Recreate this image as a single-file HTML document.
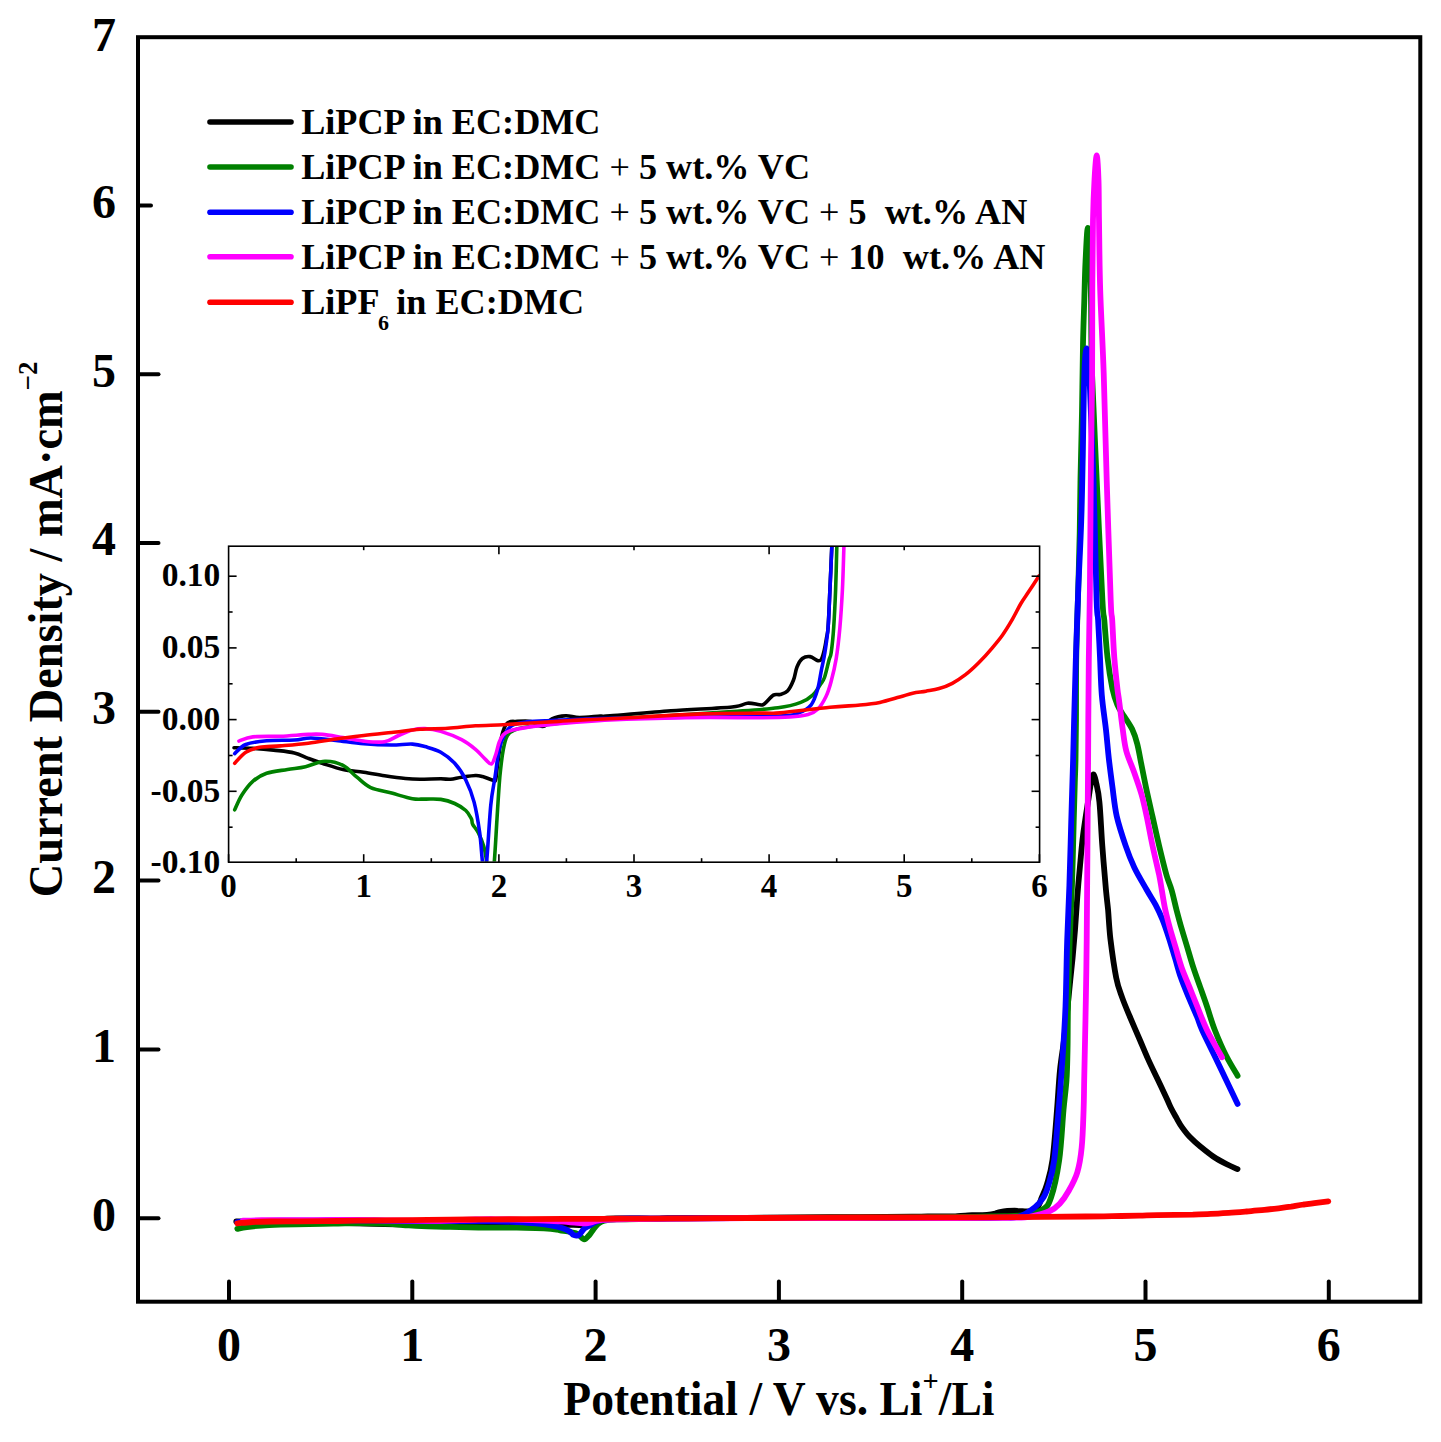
<!DOCTYPE html><html><head><meta charset="utf-8"><style>html,body{margin:0;padding:0;background:#fff;}body{width:1441px;height:1442px;overflow:hidden;}svg{display:block;}text{font-family:"Liberation Serif", serif;font-weight:bold;fill:#000;}</style></head><body>
<svg width="1441" height="1442" viewBox="0 0 1441 1442">
<rect width="1441" height="1442" fill="#fff"/>
<defs><clipPath id="cm"><rect x="140" y="39" width="1278" height="1261"/></clipPath><clipPath id="ci"><rect x="229.4" y="547" width="809.5" height="314.6"/></clipPath></defs>
<g clip-path="url(#cm)" fill="none" stroke-width="5.8" stroke-linecap="round" stroke-linejoin="round">
<path stroke="#000000" d="M236.3,1221.5 C240.6,1221.5 252.9,1221.5 261.8,1221.6 C270.8,1221.6 280.6,1221.7 290.0,1221.8 C299.4,1221.9 310.4,1222.0 318.3,1222.1 C326.1,1222.3 330.8,1222.6 337.1,1222.8 C343.4,1223.0 348.1,1223.1 356.0,1223.3 C363.8,1223.6 374.8,1223.9 384.2,1224.1 C393.6,1224.3 403.0,1224.3 412.4,1224.4 C421.8,1224.5 431.2,1224.7 440.6,1224.8 C450.0,1224.9 460.8,1225.1 468.8,1225.1 C476.8,1225.2 480.6,1225.2 488.6,1225.2 C496.6,1225.2 509.9,1225.2 516.8,1225.2 C523.7,1225.2 525.3,1225.2 530.0,1225.2 C534.7,1225.2 539.4,1225.1 545.1,1225.0 C550.7,1224.9 559.2,1224.8 563.9,1224.8 C568.6,1224.8 569.6,1224.8 573.4,1224.9 C577.2,1225.0 583.6,1225.2 586.6,1225.3 C589.5,1225.4 589.9,1225.6 591.2,1225.3 C592.4,1225.0 592.6,1224.2 594.0,1223.3 C595.5,1222.5 597.5,1220.9 599.7,1220.1 C601.9,1219.3 603.7,1218.9 607.2,1218.6 C610.6,1218.3 615.1,1218.4 620.5,1218.4 C625.8,1218.4 634.2,1218.3 639.2,1218.4 C644.2,1218.5 647.4,1218.8 650.6,1218.9 C653.7,1219.0 655.2,1219.1 658.1,1218.9 C660.9,1218.8 662.8,1218.3 667.5,1218.1 C672.2,1217.9 680.0,1217.8 686.3,1217.8 C692.5,1217.7 697.3,1217.9 705.1,1218.0 C713.0,1218.0 726.5,1217.8 733.3,1217.8 C740.2,1217.8 730.4,1217.9 746.4,1217.8 C762.3,1217.7 801.5,1217.3 829.1,1217.2 C856.7,1217.0 894.7,1216.9 912.0,1216.7 C929.3,1216.6 926.5,1216.3 932.7,1216.3 C939.0,1216.2 945.5,1216.4 949.3,1216.4 C953.1,1216.5 952.4,1216.6 955.5,1216.4 C958.6,1216.2 964.4,1215.5 968.0,1215.3 C971.6,1215.1 973.8,1215.3 977.0,1215.2 C980.1,1215.2 984.1,1215.1 987.1,1214.8 C990.2,1214.5 993.1,1214.0 995.3,1213.5 C997.4,1213.1 998.0,1212.4 1000.0,1212.0 C1002.0,1211.6 1004.4,1211.2 1007.3,1211.0 C1010.3,1210.8 1014.1,1210.7 1017.7,1210.8 C1021.2,1210.8 1025.3,1211.7 1028.5,1211.3 C1031.7,1210.8 1034.8,1210.4 1037.0,1208.0 C1039.2,1205.6 1040.3,1201.0 1042.0,1197.0 C1043.7,1193.0 1045.2,1190.2 1047.0,1184.0 C1048.8,1177.8 1050.8,1172.3 1052.5,1160.0 C1054.2,1147.7 1055.8,1125.0 1057.0,1110.0 C1058.2,1095.0 1058.8,1081.7 1060.0,1070.0 C1061.2,1058.3 1062.8,1050.3 1064.0,1040.0 C1065.2,1029.7 1066.5,1018.0 1067.5,1008.0 C1068.5,998.0 1069.5,988.3 1070.3,980.0 C1071.1,971.7 1071.8,966.3 1072.6,958.0 C1073.4,949.7 1074.2,940.2 1075.0,930.0 C1075.8,919.8 1076.5,907.7 1077.3,897.0 C1078.1,886.3 1079.0,876.3 1080.0,866.0 C1081.0,855.7 1081.6,846.4 1083.1,835.0 C1084.5,823.6 1087.3,806.7 1088.7,797.5 C1090.1,788.3 1090.7,783.8 1091.5,780.0 C1092.3,776.2 1093.0,774.2 1093.7,774.5 C1094.5,774.8 1095.0,777.4 1096.0,782.0 C1097.0,786.6 1098.4,791.3 1099.4,801.9 C1100.5,812.5 1101.2,831.0 1102.3,845.6 C1103.4,860.2 1104.9,878.6 1105.9,889.3 C1106.9,900.0 1107.3,901.8 1108.1,910.0 C1108.8,918.2 1109.1,927.5 1110.4,938.8 C1111.8,950.1 1114.3,968.0 1116.2,977.7 C1118.1,987.4 1119.7,990.6 1122.0,997.1 C1124.3,1003.6 1126.8,1009.4 1129.8,1016.5 C1132.8,1023.6 1136.8,1032.8 1139.9,1040.0 C1143.0,1047.2 1145.3,1052.9 1148.2,1059.4 C1151.1,1065.9 1154.3,1072.3 1157.4,1078.8 C1160.5,1085.3 1164.3,1093.4 1166.6,1098.3 C1168.9,1103.2 1169.4,1104.8 1171.0,1108.0 C1172.6,1111.2 1174.5,1114.5 1176.3,1117.7 C1178.1,1120.9 1179.8,1124.2 1182.1,1127.4 C1184.4,1130.6 1186.8,1133.9 1189.9,1137.1 C1193.0,1140.3 1196.7,1143.6 1200.6,1146.8 C1204.5,1150.0 1208.8,1153.6 1213.2,1156.5 C1217.6,1159.4 1222.8,1162.2 1226.8,1164.3 C1230.8,1166.4 1235.7,1168.3 1237.5,1169.1"/>
<path stroke="#008000" d="M237.3,1228.8 C238.9,1228.5 242.7,1227.7 246.8,1227.1 C250.9,1226.5 256.2,1225.9 261.8,1225.5 C267.5,1225.0 272.7,1224.8 280.5,1224.5 C288.4,1224.3 300.1,1224.2 308.9,1224.1 C317.7,1223.9 324.9,1223.9 333.3,1223.7 C341.8,1223.6 351.2,1223.1 359.6,1223.1 C368.1,1223.1 376.9,1223.3 384.2,1223.6 C391.4,1223.9 396.8,1224.5 403.0,1225.0 C409.3,1225.4 413.9,1225.9 421.8,1226.2 C429.6,1226.5 440.7,1226.6 450.1,1226.9 C459.5,1227.1 470.8,1227.4 478.3,1227.5 C485.9,1227.6 489.0,1227.5 495.4,1227.6 C501.8,1227.6 510.1,1227.5 516.8,1227.6 C523.6,1227.7 530.0,1227.9 535.7,1228.1 C541.4,1228.3 547.0,1228.6 550.8,1228.9 C554.5,1229.2 556.8,1229.6 558.4,1229.9 C559.9,1230.1 558.6,1230.3 560.1,1230.5 C561.7,1230.8 565.2,1231.1 567.7,1231.5 C570.2,1231.9 573.3,1232.6 575.2,1233.1 C577.0,1233.7 577.5,1233.9 579.0,1234.9 C580.5,1236.0 582.5,1239.4 584.3,1239.4 C586.0,1239.4 587.9,1236.5 589.4,1234.9 C590.9,1233.3 591.8,1231.5 593.1,1229.9 C594.3,1228.2 595.5,1226.3 596.9,1225.0 C598.3,1223.6 599.9,1222.5 601.6,1221.7 C603.3,1220.9 604.7,1220.5 607.2,1220.1 C609.7,1219.7 611.3,1219.6 616.7,1219.4 C622.0,1219.2 619.8,1219.2 639.2,1219.0 C658.5,1218.8 701.1,1218.4 732.8,1218.2 C764.4,1218.0 799.2,1217.9 829.1,1217.7 C859.0,1217.6 887.8,1217.4 912.0,1217.3 C936.2,1217.1 958.7,1217.0 974.2,1216.8 C989.8,1216.6 997.3,1216.4 1005.2,1216.2 C1013.1,1215.9 1015.5,1216.4 1021.7,1215.3 C1027.9,1214.2 1037.5,1212.7 1042.4,1209.7 C1047.3,1206.7 1048.3,1205.6 1051.1,1197.3 C1053.9,1189.0 1057.1,1174.5 1059.2,1160.0 C1061.3,1145.5 1062.3,1123.3 1063.5,1110.0 C1064.7,1096.7 1065.8,1089.8 1066.5,1080.0 C1067.2,1070.2 1067.2,1063.2 1067.5,1051.0 C1067.8,1038.8 1067.6,1025.1 1068.0,1006.6 C1068.4,988.1 1069.0,960.3 1069.7,940.0 C1070.4,919.7 1071.3,904.7 1072.0,885.0 C1072.7,865.3 1073.2,839.0 1073.7,822.0 C1074.2,805.0 1074.5,793.3 1074.8,783.0 C1075.1,772.7 1075.3,770.5 1075.5,760.0 C1075.7,749.5 1075.9,736.7 1076.0,720.0 C1076.1,703.3 1075.9,680.0 1076.2,660.0 C1076.5,640.0 1077.3,621.2 1077.9,600.0 C1078.5,578.8 1079.3,553.3 1079.7,533.0 C1080.1,512.7 1080.1,498.3 1080.5,478.0 C1080.9,457.7 1081.6,433.3 1082.0,411.0 C1082.4,388.7 1082.6,362.5 1083.0,344.0 C1083.4,325.5 1083.9,313.7 1084.3,300.0 C1084.7,286.3 1084.9,274.0 1085.5,262.0 C1086.1,250.0 1087.0,228.0 1087.8,228.0 C1088.5,228.0 1089.5,250.0 1090.0,262.0 C1090.5,274.0 1090.7,281.5 1091.0,300.0 C1091.3,318.5 1091.0,343.0 1092.0,373.0 C1093.0,403.0 1095.0,442.2 1096.7,480.0 C1098.4,517.8 1101.1,576.7 1102.4,600.0 C1103.7,623.3 1103.5,610.4 1104.3,620.0 C1105.1,629.6 1106.2,646.0 1107.5,657.4 C1108.8,668.8 1110.8,680.7 1112.4,688.6 C1114.1,696.5 1115.5,700.3 1117.4,704.9 C1119.3,709.5 1121.5,712.0 1124.0,716.0 C1126.5,720.0 1129.9,724.5 1132.1,729.1 C1134.3,733.7 1135.6,737.6 1137.2,743.7 C1138.8,749.8 1140.1,758.2 1141.6,765.5 C1143.1,772.8 1144.2,778.9 1146.0,787.4 C1147.8,795.9 1150.3,806.8 1152.5,816.5 C1154.7,826.2 1156.8,835.9 1159.1,845.6 C1161.4,855.3 1164.3,867.3 1166.4,874.7 C1168.5,882.1 1169.9,884.2 1171.6,890.0 C1173.3,895.8 1174.7,902.9 1176.4,909.4 C1178.1,915.9 1179.8,922.3 1181.7,928.8 C1183.6,935.3 1185.6,941.8 1187.6,948.3 C1189.5,954.8 1191.3,961.2 1193.4,967.7 C1195.5,974.2 1197.9,980.6 1200.2,987.1 C1202.5,993.6 1204.6,999.4 1207.0,1006.5 C1209.4,1013.6 1211.6,1021.9 1214.8,1030.0 C1218.0,1038.1 1222.1,1047.7 1225.9,1055.3 C1229.7,1062.9 1235.6,1072.3 1237.6,1075.7"/>
<path stroke="#0000ff" d="M237.3,1222.2 C239.8,1222.0 245.1,1221.4 252.3,1221.1 C259.5,1220.9 269.6,1220.8 280.5,1220.7 C291.5,1220.6 308.2,1220.7 318.3,1220.6 C328.3,1220.5 331.4,1220.4 340.8,1220.4 C350.2,1220.4 362.7,1220.5 374.7,1220.6 C386.6,1220.8 399.8,1221.0 412.4,1221.0 C425.0,1221.1 439.1,1221.2 450.1,1221.2 C461.1,1221.2 470.8,1221.1 478.3,1221.1 C485.9,1221.1 489.0,1221.2 495.4,1221.4 C501.8,1221.5 510.1,1221.7 516.8,1222.0 C523.6,1222.4 530.0,1222.8 535.7,1223.3 C541.4,1223.9 546.4,1224.5 550.8,1225.3 C555.1,1226.1 558.9,1226.9 562.0,1227.9 C565.2,1228.9 567.7,1230.3 569.6,1231.5 C571.5,1232.7 572.3,1234.3 573.4,1234.9 C574.5,1235.6 575.2,1235.6 576.1,1235.6 C577.0,1235.6 577.5,1236.2 579.0,1234.9 C580.4,1233.7 582.8,1229.9 584.7,1228.2 C586.6,1226.6 588.5,1226.1 590.4,1225.0 C592.2,1223.9 593.7,1222.6 595.9,1221.7 C598.1,1220.9 600.7,1220.4 603.5,1219.9 C606.3,1219.4 608.5,1219.2 612.9,1218.9 C617.3,1218.7 622.3,1218.6 629.8,1218.5 C637.4,1218.4 640.9,1218.4 658.1,1218.4 C675.2,1218.3 697.7,1218.1 732.8,1218.1 C767.9,1218.0 827.7,1217.9 868.4,1217.9 C909.1,1217.8 954.6,1217.9 977.0,1217.8 C999.3,1217.7 995.3,1217.6 1002.3,1217.4 C1009.4,1217.2 1013.9,1218.2 1019.3,1216.5 C1024.7,1214.8 1030.8,1210.4 1034.9,1207.2 C1039.0,1204.0 1041.3,1201.0 1043.6,1197.3 C1045.9,1193.6 1046.8,1191.0 1048.6,1184.8 C1050.4,1178.6 1052.5,1172.5 1054.2,1160.0 C1055.9,1147.5 1057.2,1126.7 1058.6,1110.0 C1060.0,1093.3 1061.2,1077.2 1062.4,1060.0 C1063.6,1042.8 1064.7,1026.6 1065.5,1006.6 C1066.3,986.6 1066.5,960.3 1067.2,940.0 C1067.9,919.7 1068.7,904.6 1069.4,885.0 C1070.1,865.4 1070.6,843.3 1071.2,822.5 C1071.8,801.7 1072.6,777.1 1073.1,760.0 C1073.6,742.9 1073.6,736.7 1074.1,720.0 C1074.5,703.3 1075.1,681.8 1075.8,660.0 C1076.5,638.2 1077.4,612.0 1078.3,589.0 C1079.2,566.0 1080.5,544.2 1081.2,522.0 C1082.0,499.8 1082.3,477.8 1082.8,455.6 C1083.2,433.4 1083.5,404.9 1083.9,389.0 C1084.3,373.1 1084.5,366.8 1085.0,360.0 C1085.5,353.2 1086.0,348.5 1086.6,348.5 C1087.2,348.5 1087.9,353.1 1088.5,360.0 C1089.1,366.9 1089.2,370.0 1090.0,390.0 C1090.8,410.0 1092.4,445.0 1093.5,480.0 C1094.6,515.0 1095.8,576.7 1096.6,600.0 C1097.4,623.3 1097.5,610.4 1098.1,620.0 C1098.7,629.6 1099.4,644.9 1100.0,657.4 C1100.6,669.9 1100.8,682.9 1101.8,694.9 C1102.8,706.9 1104.7,718.5 1105.9,729.1 C1107.1,739.7 1107.7,748.6 1108.8,758.3 C1109.9,768.0 1111.2,777.7 1112.5,787.4 C1113.8,797.1 1114.6,806.8 1116.8,816.5 C1119.0,826.2 1122.7,837.1 1125.6,845.6 C1128.5,854.1 1130.8,860.1 1134.3,867.5 C1137.8,874.9 1143.3,883.8 1146.8,890.0 C1150.3,896.2 1152.9,899.8 1155.5,904.6 C1158.1,909.5 1160.0,913.5 1162.3,919.1 C1164.6,924.8 1167.0,932.0 1169.1,938.5 C1171.2,945.0 1173.0,951.5 1175.0,958.0 C1177.0,964.5 1178.5,970.9 1180.8,977.4 C1183.0,983.9 1185.8,990.3 1188.5,996.8 C1191.2,1003.3 1194.5,1010.7 1196.8,1016.2 C1199.1,1021.7 1199.2,1023.5 1202.1,1030.0 C1205.0,1036.5 1208.4,1043.0 1214.3,1055.3 C1220.2,1067.6 1233.7,1095.8 1237.6,1103.9"/>
<path stroke="#ff00ff" d="M243.0,1220.7 C246.1,1220.6 252.4,1220.3 261.8,1220.2 C271.2,1220.1 286.9,1220.2 299.4,1220.2 C311.9,1220.1 327.7,1220.0 337.1,1219.9 C346.5,1219.9 348.1,1219.9 356.0,1219.9 C363.8,1220.0 374.8,1220.2 384.2,1220.3 C393.6,1220.5 403.0,1220.6 412.4,1220.7 C421.8,1220.8 432.8,1220.9 440.6,1220.8 C448.5,1220.7 453.2,1220.3 459.5,1220.1 C465.7,1219.8 472.3,1219.6 478.3,1219.4 C484.3,1219.3 489.0,1219.2 495.4,1219.3 C501.8,1219.3 508.6,1219.4 516.8,1219.6 C525.1,1219.8 537.2,1220.2 545.1,1220.6 C552.9,1220.9 558.6,1221.3 563.9,1221.7 C569.2,1222.1 573.5,1222.6 577.1,1222.8 C580.7,1223.1 583.3,1223.5 585.6,1223.4 C588.0,1223.3 589.5,1222.8 591.2,1222.4 C592.9,1221.9 594.2,1221.3 595.9,1220.9 C597.7,1220.5 599.1,1220.2 601.6,1220.0 C604.1,1219.8 606.3,1219.6 611.0,1219.5 C615.7,1219.4 622.0,1219.3 629.8,1219.2 C637.7,1219.1 638.6,1219.0 658.1,1218.8 C677.5,1218.7 714.4,1218.4 746.4,1218.2 C778.3,1218.1 815.3,1218.0 849.9,1218.0 C884.4,1217.9 930.0,1218.0 953.5,1218.0 C976.9,1218.0 980.3,1218.0 990.5,1217.9 C1000.8,1217.8 1008.6,1217.8 1014.9,1217.6 C1021.3,1217.4 1022.7,1218.1 1028.5,1217.0 C1034.3,1215.9 1044.7,1213.2 1049.9,1211.0 C1055.1,1208.8 1056.8,1206.8 1059.9,1203.5 C1063.0,1200.2 1065.7,1196.2 1068.6,1191.0 C1071.5,1185.8 1075.1,1179.6 1077.3,1172.3 C1079.5,1165.0 1080.7,1157.7 1081.7,1147.3 C1082.8,1136.9 1083.2,1121.2 1083.6,1110.0 C1084.0,1098.8 1083.9,1095.4 1084.2,1080.0 C1084.5,1064.6 1085.1,1041.0 1085.5,1017.7 C1085.9,994.4 1086.3,983.0 1086.7,940.0 C1087.1,897.0 1087.8,796.7 1088.1,760.0 C1088.4,723.3 1088.2,736.7 1088.3,720.0 C1088.4,703.3 1088.5,681.8 1088.8,660.0 C1089.1,638.2 1089.5,623.1 1089.9,589.0 C1090.3,554.9 1090.6,491.6 1091.0,455.6 C1091.4,419.6 1091.9,400.6 1092.1,373.0 C1092.3,345.4 1092.1,315.5 1092.3,290.0 C1092.5,264.5 1092.6,238.3 1093.0,220.0 C1093.4,201.7 1093.9,190.8 1094.5,180.0 C1095.1,169.2 1096.0,155.5 1096.7,155.5 C1097.4,155.5 1098.1,169.2 1098.5,180.0 C1098.9,190.8 1098.7,201.7 1099.0,220.0 C1099.3,238.3 1099.4,264.5 1100.2,290.0 C1101.0,315.5 1102.6,341.3 1103.7,373.0 C1104.8,404.7 1105.5,442.2 1106.7,480.0 C1107.9,517.8 1109.8,576.7 1110.7,600.0 C1111.6,623.3 1111.6,610.4 1112.2,620.0 C1112.8,629.6 1113.4,646.0 1114.3,657.4 C1115.2,668.8 1116.6,681.5 1117.4,688.6 C1118.2,695.7 1118.1,693.2 1119.0,700.0 C1119.9,706.8 1121.5,720.6 1122.7,729.1 C1123.9,737.6 1124.4,743.7 1126.3,751.0 C1128.2,758.3 1131.8,765.5 1134.3,772.8 C1136.8,780.1 1139.5,787.4 1141.6,794.7 C1143.7,802.0 1144.9,808.0 1146.7,816.5 C1148.5,825.0 1150.4,835.9 1152.5,845.6 C1154.6,855.3 1157.5,867.3 1159.1,874.7 C1160.6,882.1 1160.8,884.2 1161.8,890.0 C1162.8,895.8 1163.8,902.9 1165.2,909.4 C1166.6,915.9 1168.3,922.3 1170.1,928.8 C1171.9,935.3 1174.0,941.8 1175.9,948.3 C1177.8,954.8 1179.4,961.2 1181.7,967.7 C1184.0,974.2 1186.9,980.6 1189.5,987.1 C1192.1,993.6 1194.4,999.4 1197.3,1006.5 C1200.2,1013.6 1202.9,1021.5 1207.0,1030.0 C1211.1,1038.5 1219.5,1052.8 1222.0,1057.3"/>
<path stroke="#ff0000" d="M237.3,1223.3 C239.8,1223.1 246.7,1222.4 252.3,1222.0 C258.0,1221.7 263.3,1221.6 271.2,1221.5 C279.0,1221.3 288.4,1221.4 299.4,1221.3 C310.4,1221.2 324.6,1221.1 337.1,1221.0 C349.7,1220.8 362.1,1220.6 374.7,1220.5 C387.2,1220.3 399.8,1220.2 412.4,1220.1 C425.0,1219.9 437.4,1219.8 450.1,1219.7 C462.8,1219.6 475.9,1219.4 488.6,1219.3 C501.3,1219.3 513.8,1219.3 526.3,1219.2 C538.9,1219.2 551.4,1219.0 563.9,1218.9 C576.5,1218.9 589.1,1218.9 601.6,1218.8 C614.2,1218.7 626.6,1218.7 639.2,1218.6 C651.7,1218.5 664.3,1218.5 676.9,1218.4 C689.5,1218.3 700.8,1218.3 714.6,1218.2 C728.5,1218.1 733.9,1218.1 759.9,1218.0 C785.9,1217.9 838.3,1217.6 870.6,1217.5 C902.9,1217.4 935.8,1217.5 953.5,1217.4 C971.2,1217.4 961.7,1217.5 977.0,1217.4 C992.2,1217.3 1026.7,1216.9 1044.8,1216.8 C1062.9,1216.6 1074.2,1216.6 1085.5,1216.5 C1096.7,1216.4 1103.4,1216.3 1112.3,1216.2 C1121.3,1216.0 1131.8,1215.7 1139.2,1215.6 C1146.6,1215.4 1151.0,1215.2 1157.0,1215.1 C1162.9,1215.0 1168.9,1214.9 1174.9,1214.9 C1180.8,1214.8 1186.8,1214.7 1192.8,1214.6 C1198.7,1214.4 1204.7,1214.2 1210.7,1213.9 C1216.6,1213.7 1222.6,1213.3 1228.6,1212.9 C1234.6,1212.5 1240.5,1212.0 1246.5,1211.5 C1252.5,1211.0 1259.0,1210.3 1264.4,1209.8 C1269.8,1209.3 1274.2,1208.8 1278.6,1208.3 C1283.1,1207.7 1286.9,1207.2 1291.1,1206.6 C1295.3,1205.9 1299.8,1205.1 1303.7,1204.5 C1307.6,1204.0 1310.4,1203.7 1314.4,1203.1 C1318.5,1202.6 1326.0,1201.6 1328.3,1201.3"/>
</g>
<g stroke="#000" stroke-width="4" fill="none">
<rect x="138" y="37.2" width="1282.3" height="1264.5" stroke-linejoin="miter"/>
<line x1="229.0" y1="1300" x2="229.0" y2="1281.5" stroke-linecap="round"/>
<line x1="412.3" y1="1300" x2="412.3" y2="1281.5" stroke-linecap="round"/>
<line x1="595.6" y1="1300" x2="595.6" y2="1281.5" stroke-linecap="round"/>
<line x1="778.9" y1="1300" x2="778.9" y2="1281.5" stroke-linecap="round"/>
<line x1="962.2" y1="1300" x2="962.2" y2="1281.5" stroke-linecap="round"/>
<line x1="1145.5" y1="1300" x2="1145.5" y2="1281.5" stroke-linecap="round"/>
<line x1="1328.8" y1="1300" x2="1328.8" y2="1281.5" stroke-linecap="round"/>
<line x1="139" y1="1218.2" x2="158.5" y2="1218.2" stroke-linecap="round"/>
<line x1="139" y1="1049.4" x2="158.5" y2="1049.4" stroke-linecap="round"/>
<line x1="139" y1="880.6" x2="158.5" y2="880.6" stroke-linecap="round"/>
<line x1="139" y1="711.8" x2="158.5" y2="711.8" stroke-linecap="round"/>
<line x1="139" y1="543.0" x2="158.5" y2="543.0" stroke-linecap="round"/>
<line x1="139" y1="374.2" x2="158.5" y2="374.2" stroke-linecap="round"/>
<line x1="139" y1="205.4" x2="151.0" y2="205.4" stroke-linecap="round"/>
</g>
<text x="229.0" y="1361" font-size="48" text-anchor="middle">0</text>
<text x="412.3" y="1361" font-size="48" text-anchor="middle">1</text>
<text x="595.6" y="1361" font-size="48" text-anchor="middle">2</text>
<text x="778.9" y="1361" font-size="48" text-anchor="middle">3</text>
<text x="962.2" y="1361" font-size="48" text-anchor="middle">4</text>
<text x="1145.5" y="1361" font-size="48" text-anchor="middle">5</text>
<text x="1328.8" y="1361" font-size="48" text-anchor="middle">6</text>
<text x="116" y="1230.5" font-size="48" text-anchor="end">0</text>
<text x="116" y="1061.7" font-size="48" text-anchor="end">1</text>
<text x="116" y="892.9" font-size="48" text-anchor="end">2</text>
<text x="116" y="724.1" font-size="48" text-anchor="end">3</text>
<text x="116" y="555.3" font-size="48" text-anchor="end">4</text>
<text x="116" y="386.5" font-size="48" text-anchor="end">5</text>
<text x="116" y="217.7" font-size="48" text-anchor="end">6</text>
<text x="116" y="50.7" font-size="48" text-anchor="end">7</text>
<text transform="translate(563.3,1415) scale(0.95,1)" font-size="48">Potential / V vs. Li<tspan font-size="30" dy="-24">+</tspan><tspan dy="24">/Li</tspan></text>
<text transform="translate(62,897.3) rotate(-90) scale(0.965,1)" font-size="48">Current<tspan dx="2.4"> </tspan>Density / mA&#183;cm<tspan font-size="28" dy="-25">&#8722;2</tspan></text>
<line x1="210" y1="122.0" x2="291" y2="122.0" stroke="#000000" stroke-width="5.6" stroke-linecap="round"/>
<text x="301.2" y="134.0" font-size="36.17">LiPCP in EC:DMC</text>
<line x1="210" y1="167.0" x2="291" y2="167.0" stroke="#008000" stroke-width="5.6" stroke-linecap="round"/>
<text x="301.2" y="179.0" font-size="36.17">LiPCP in EC:DMC <tspan style="font-weight:normal">+</tspan> 5 wt.% VC</text>
<line x1="210" y1="212.3" x2="291" y2="212.3" stroke="#0000ff" stroke-width="5.6" stroke-linecap="round"/>
<text x="301.2" y="224.0" font-size="36.17">LiPCP in EC:DMC <tspan style="font-weight:normal">+</tspan> 5 wt.% VC <tspan style="font-weight:normal">+</tspan> 5&#160; wt.% AN</text>
<line x1="210" y1="256.8" x2="291" y2="256.8" stroke="#ff00ff" stroke-width="5.6" stroke-linecap="round"/>
<text x="301.2" y="269.3" font-size="36.17">LiPCP in EC:DMC <tspan style="font-weight:normal">+</tspan> 5 wt.% VC <tspan style="font-weight:normal">+</tspan> 10&#160; wt.% AN</text>
<line x1="210" y1="302.2" x2="291" y2="302.2" stroke="#ff0000" stroke-width="5.6" stroke-linecap="round"/>
<text x="301.2" y="314.3" font-size="36.17">LiPF<tspan font-size="22" dx="-1.5" dy="15.5">6</tspan><tspan dx="-1.8" dy="-15.5"> in EC:DMC</tspan></text>
<rect x="228.6" y="546.2" width="811" height="316" fill="#fff" stroke="none"/>
<g clip-path="url(#ci)" fill="none" stroke-width="3.6" stroke-linecap="round" stroke-linejoin="round">
<path stroke="#000000" d="M234.0,747.7 C237.1,747.8 246.2,748.0 252.8,748.4 C259.4,748.8 266.7,749.4 273.6,750.1 C280.5,750.9 288.6,751.5 294.4,752.9 C300.2,754.3 303.7,756.7 308.3,758.4 C312.9,760.1 316.4,761.4 322.2,763.3 C328.0,765.1 336.1,768.0 343.0,769.5 C349.9,771.0 356.9,771.2 363.8,772.3 C370.7,773.3 377.7,774.8 384.6,775.8 C391.5,776.8 399.5,777.9 405.4,778.5 C411.3,779.1 414.1,779.2 420.0,779.2 C425.9,779.2 435.7,778.8 440.8,778.8 C445.9,778.8 447.0,779.5 450.5,779.2 C454.0,778.9 457.4,777.8 461.6,777.2 C465.8,776.6 472.0,775.6 475.5,775.5 C479.0,775.4 479.7,775.8 482.5,776.5 C485.3,777.2 490.0,779.3 492.2,779.9 C494.4,780.5 494.7,782.7 495.6,779.9 C496.5,777.1 496.6,770.7 497.7,763.3 C498.8,755.9 500.3,742.2 501.9,735.5 C503.5,728.8 504.8,725.4 507.4,723.0 C509.9,720.6 513.3,721.7 517.2,721.4 C521.1,721.1 527.3,720.7 531.0,721.4 C534.7,722.1 537.1,725.1 539.4,725.8 C541.7,726.5 542.8,726.9 544.9,725.8 C547.0,724.6 548.4,720.6 551.9,718.9 C555.4,717.2 561.1,716.0 565.7,715.8 C570.3,715.6 573.8,717.5 579.6,717.5 C585.4,717.5 595.3,716.4 600.4,716.1 C605.5,715.8 598.2,716.8 610.0,715.9 C621.8,715.0 650.6,712.3 671.0,710.8 C691.4,709.3 719.4,708.3 732.1,707.0 C744.8,705.7 742.8,703.6 747.4,703.2 C752.0,702.8 756.8,704.6 759.6,704.7 C762.4,704.8 761.9,705.6 764.2,704.0 C766.5,702.4 770.8,696.7 773.4,695.1 C776.0,693.5 777.6,695.2 780.0,694.5 C782.4,693.8 785.2,693.4 787.5,691.0 C789.8,688.6 791.9,684.0 793.5,680.0 C795.1,676.0 795.5,670.6 797.0,667.0 C798.5,663.4 800.2,660.2 802.4,658.5 C804.6,656.8 807.4,656.2 810.0,656.6 C812.6,657.0 816.1,660.3 818.0,660.7 C819.9,661.1 820.5,660.8 821.5,659.0 C822.5,657.2 823.5,653.5 824.3,650.0 C825.1,646.5 825.9,641.8 826.5,638.0 C827.1,634.2 827.5,635.4 828.1,627.4 C828.7,619.4 829.3,603.4 829.9,590.0 C830.5,576.6 831.4,558.6 831.8,546.9 C832.2,535.2 832.4,524.5 832.5,520.0"/>
<path stroke="#008000" d="M234.7,809.8 C235.9,807.4 238.7,800.0 241.7,795.2 C244.7,790.5 248.7,784.9 252.8,781.3 C257.0,777.6 260.8,775.3 266.6,773.3 C272.4,771.3 281.0,770.6 287.5,769.5 C294.0,768.4 299.3,768.1 305.5,766.7 C311.7,765.3 318.6,761.4 324.9,761.2 C331.1,761.0 337.7,762.7 343.0,765.4 C348.3,768.1 352.3,773.5 356.9,777.2 C361.5,780.9 364.9,785.0 370.7,787.6 C376.5,790.2 384.7,791.2 391.6,793.1 C398.6,795.0 406.8,797.7 412.4,798.7 C418.0,799.7 420.3,799.0 425.0,799.1 C429.7,799.2 435.9,798.7 440.8,799.4 C445.8,800.1 450.5,801.6 454.7,803.5 C458.9,805.4 463.0,808.0 465.8,810.5 C468.6,813.0 470.2,816.5 471.4,818.8 C472.5,821.1 471.5,822.0 472.7,824.3 C473.9,826.6 476.4,829.0 478.3,832.7 C480.2,836.4 482.4,841.6 483.8,846.5 C485.2,851.4 485.5,852.9 486.6,861.8 C487.7,870.7 489.2,900.0 490.5,900.0 C491.8,900.0 493.2,875.3 494.3,861.8 C495.4,848.3 496.1,832.9 497.0,818.8 C497.9,804.7 498.8,788.8 499.8,777.2 C500.9,765.6 502.0,756.4 503.3,749.4 C504.6,742.4 505.5,738.7 507.4,735.5 C509.2,732.3 510.5,731.5 514.4,730.0 C518.3,728.5 516.7,728.2 531.0,726.5 C545.3,724.8 576.7,721.3 600.0,719.5 C623.3,717.7 649.0,716.8 671.0,715.5 C693.0,714.2 714.3,712.9 732.1,711.6 C749.9,710.3 766.5,709.3 778.0,707.8 C789.5,706.3 795.0,704.6 800.8,702.4 C806.6,700.2 809.8,697.7 813.0,694.8 C816.2,691.9 818.1,687.9 820.0,685.0 C821.9,682.1 823.0,681.7 824.5,677.5 C826.0,673.3 827.9,664.2 829.0,660.0 C830.1,655.8 830.4,657.8 831.2,652.4 C832.0,647.0 833.0,637.8 833.7,627.4 C834.4,617.0 835.1,603.4 835.6,590.0 C836.1,576.6 836.5,558.6 836.8,546.9 C837.1,535.2 837.4,524.5 837.5,520.0"/>
<path stroke="#0000ff" d="M234.7,753.6 C236.5,752.1 240.5,746.6 245.8,744.5 C251.1,742.4 258.5,741.5 266.6,740.7 C274.7,740.0 287.0,740.5 294.4,740.0 C301.8,739.5 304.1,737.9 311.0,738.0 C317.9,738.1 327.2,739.4 336.0,740.4 C344.8,741.4 354.5,743.0 363.8,743.8 C373.1,744.6 383.5,745.0 391.6,745.0 C399.7,745.0 406.8,743.8 412.4,744.1 C418.0,744.4 420.3,745.2 425.0,746.6 C429.7,748.0 435.9,749.4 440.8,752.2 C445.8,755.0 450.5,758.7 454.7,763.3 C458.9,767.9 462.6,773.5 465.8,780.0 C469.0,786.5 471.8,793.3 474.1,802.1 C476.4,810.9 478.3,822.8 479.7,832.7 C481.1,842.7 481.7,856.1 482.5,861.8 C483.3,867.5 483.8,867.0 484.5,867.0 C485.2,867.0 485.6,872.1 486.6,861.8 C487.7,851.4 489.4,819.0 490.8,804.9 C492.2,790.8 493.6,786.5 495.0,777.2 C496.4,768.0 497.5,756.6 499.1,749.4 C500.7,742.2 502.6,738.0 504.7,734.1 C506.8,730.2 508.4,727.8 511.6,725.8 C514.8,723.8 518.6,723.1 524.1,722.3 C529.6,721.5 532.2,721.5 544.9,720.9 C557.5,720.3 574.1,719.1 600.0,718.5 C625.9,717.9 670.0,717.4 700.0,717.0 C730.0,716.6 763.5,716.7 780.0,716.0 C796.5,715.3 793.5,714.8 798.7,712.9 C803.9,711.0 808.1,708.6 811.2,704.8 C814.3,700.9 815.8,695.4 817.5,689.8 C819.2,684.2 820.0,677.3 821.2,671.1 C822.4,664.9 823.8,659.7 824.9,652.4 C826.0,645.1 827.3,637.8 828.1,627.4 C828.9,617.0 829.3,603.4 829.9,590.0 C830.5,576.6 831.4,558.6 831.8,546.9 C832.2,535.2 832.4,524.5 832.5,520.0"/>
<path stroke="#ff00ff" d="M238.9,741.1 C241.2,740.4 245.9,737.7 252.8,736.9 C259.7,736.1 271.2,736.6 280.5,736.2 C289.8,735.8 301.4,734.7 308.3,734.4 C315.2,734.1 316.4,733.9 322.2,734.4 C328.0,734.9 336.1,736.5 343.0,737.6 C349.9,738.7 356.9,740.4 363.8,741.1 C370.7,741.8 378.8,742.7 384.6,741.8 C390.4,740.9 393.9,737.5 398.5,735.5 C403.1,733.5 408.0,731.1 412.4,730.0 C416.8,728.9 420.3,728.4 425.0,728.6 C429.7,728.8 434.7,729.5 440.8,731.4 C446.9,733.2 455.8,736.7 461.6,739.7 C467.4,742.7 471.6,746.2 475.5,749.4 C479.4,752.6 482.5,756.7 485.2,759.1 C487.9,761.5 489.8,764.7 491.5,764.0 C493.2,763.3 494.3,758.6 495.6,755.0 C496.9,751.4 497.8,745.9 499.1,742.5 C500.4,739.1 501.5,736.8 503.3,734.8 C505.1,732.8 506.7,731.9 510.2,730.7 C513.7,729.6 518.3,728.8 524.1,727.9 C529.9,727.0 530.6,726.4 544.9,725.1 C559.2,723.8 586.4,721.2 610.0,720.0 C633.6,718.8 660.8,718.1 686.3,717.7 C711.8,717.3 745.4,717.8 762.7,717.7 C780.0,717.6 782.5,717.5 790.0,717.0 C797.5,716.5 803.3,715.8 808.0,714.5 C812.7,713.2 815.0,712.0 818.0,709.0 C821.0,706.0 823.8,701.0 826.0,696.5 C828.2,692.0 829.3,688.3 831.0,682.0 C832.7,675.7 834.7,667.7 836.2,658.6 C837.7,649.5 838.9,638.8 839.9,627.4 C840.9,616.0 841.7,603.4 842.4,590.0 C843.1,576.6 843.5,558.6 843.9,546.9 C844.2,535.2 844.4,524.5 844.5,520.0"/>
<path stroke="#ff0000" d="M234.7,763.3 C236.5,761.4 241.6,754.9 245.8,752.2 C250.0,749.5 253.9,748.3 259.7,747.3 C265.5,746.2 272.4,746.6 280.5,745.9 C288.6,745.2 299.1,744.4 308.3,743.2 C317.6,742.1 326.8,740.3 336.0,739.0 C345.2,737.7 354.5,736.6 363.8,735.5 C373.1,734.4 382.2,733.5 391.6,732.5 C401.0,731.5 410.6,730.0 420.0,729.3 C429.4,728.6 438.6,728.9 447.8,728.3 C457.1,727.7 466.2,726.4 475.5,725.8 C484.8,725.2 494.1,725.2 503.3,724.7 C512.5,724.2 521.8,723.5 531.0,723.0 C540.2,722.5 549.5,722.0 558.8,721.4 C568.1,720.8 576.4,720.1 586.6,719.6 C596.8,719.1 600.8,719.2 620.0,718.2 C639.2,717.2 677.8,714.8 701.6,713.9 C725.4,713.0 749.6,713.3 762.7,713.1 C775.8,712.9 768.8,713.9 780.0,712.9 C791.2,711.9 816.7,708.6 830.0,707.3 C843.3,706.0 851.7,705.8 860.0,705.0 C868.3,704.2 873.2,703.7 879.8,702.4 C886.4,701.1 894.1,698.6 899.6,697.1 C905.1,695.6 908.3,694.2 912.7,693.2 C917.1,692.2 921.5,692.0 925.9,691.2 C930.3,690.4 934.7,689.9 939.1,688.6 C943.5,687.3 947.9,685.6 952.3,683.3 C956.7,681.0 961.1,678.1 965.5,674.7 C969.9,671.3 974.3,667.2 978.7,662.8 C983.1,658.4 988.0,652.9 991.9,648.3 C995.8,643.7 999.1,639.8 1002.4,635.2 C1005.7,630.6 1008.5,626.0 1011.6,620.7 C1014.7,615.4 1018.0,608.4 1020.9,603.5 C1023.8,598.6 1025.8,596.2 1028.8,591.6 C1031.8,587.0 1037.3,578.6 1039.0,576.0"/>
</g>
<g stroke="#000" stroke-width="1.6" fill="none">
<rect x="228.6" y="546.2" width="811" height="316"/>
<line x1="228.6" y1="862.2" x2="228.6" y2="854.2"/>
<line x1="296.2" y1="862.2" x2="296.2" y2="858.2"/>
<line x1="363.7" y1="862.2" x2="363.7" y2="854.2"/>
<line x1="431.3" y1="862.2" x2="431.3" y2="858.2"/>
<line x1="498.9" y1="862.2" x2="498.9" y2="854.2"/>
<line x1="566.4" y1="862.2" x2="566.4" y2="858.2"/>
<line x1="634.0" y1="862.2" x2="634.0" y2="854.2"/>
<line x1="701.6" y1="862.2" x2="701.6" y2="858.2"/>
<line x1="769.1" y1="862.2" x2="769.1" y2="854.2"/>
<line x1="836.7" y1="862.2" x2="836.7" y2="858.2"/>
<line x1="904.2" y1="862.2" x2="904.2" y2="854.2"/>
<line x1="971.8" y1="862.2" x2="971.8" y2="858.2"/>
<line x1="1039.4" y1="862.2" x2="1039.4" y2="854.2"/>
<line x1="363.7" y1="546.2" x2="363.7" y2="550.2"/>
<line x1="498.9" y1="546.2" x2="498.9" y2="554.2"/>
<line x1="634.0" y1="546.2" x2="634.0" y2="550.2"/>
<line x1="769.1" y1="546.2" x2="769.1" y2="554.2"/>
<line x1="904.2" y1="546.2" x2="904.2" y2="550.2"/>
<line x1="228.6" y1="827.2" x2="232.6" y2="827.2"/>
<line x1="1039.6" y1="827.2" x2="1035.6" y2="827.2"/>
<line x1="228.6" y1="791.3" x2="236.6" y2="791.3"/>
<line x1="1039.6" y1="791.3" x2="1031.6" y2="791.3"/>
<line x1="228.6" y1="755.5" x2="232.6" y2="755.5"/>
<line x1="1039.6" y1="755.5" x2="1035.6" y2="755.5"/>
<line x1="228.6" y1="719.6" x2="236.6" y2="719.6"/>
<line x1="1039.6" y1="719.6" x2="1031.6" y2="719.6"/>
<line x1="228.6" y1="683.8" x2="232.6" y2="683.8"/>
<line x1="1039.6" y1="683.8" x2="1035.6" y2="683.8"/>
<line x1="228.6" y1="647.9" x2="236.6" y2="647.9"/>
<line x1="1039.6" y1="647.9" x2="1031.6" y2="647.9"/>
<line x1="228.6" y1="612.0" x2="232.6" y2="612.0"/>
<line x1="1039.6" y1="612.0" x2="1035.6" y2="612.0"/>
<line x1="228.6" y1="576.2" x2="236.6" y2="576.2"/>
<line x1="1039.6" y1="576.2" x2="1031.6" y2="576.2"/>
</g>
<text x="220.3" y="586.4" font-size="33.5" text-anchor="end">0.10</text>
<text x="220.3" y="658.1" font-size="33.5" text-anchor="end">0.05</text>
<text x="220.3" y="729.8" font-size="33.5" text-anchor="end">0.00</text>
<text x="220.3" y="801.5" font-size="33.5" text-anchor="end">-0.05</text>
<text x="220.3" y="873.2" font-size="33.5" text-anchor="end">-0.10</text>
<text x="228.6" y="896.5" font-size="33" text-anchor="middle">0</text>
<text x="363.7" y="896.5" font-size="33" text-anchor="middle">1</text>
<text x="498.9" y="896.5" font-size="33" text-anchor="middle">2</text>
<text x="634.0" y="896.5" font-size="33" text-anchor="middle">3</text>
<text x="769.1" y="896.5" font-size="33" text-anchor="middle">4</text>
<text x="904.2" y="896.5" font-size="33" text-anchor="middle">5</text>
<text x="1039.4" y="896.5" font-size="33" text-anchor="middle">6</text>
</svg></body></html>
